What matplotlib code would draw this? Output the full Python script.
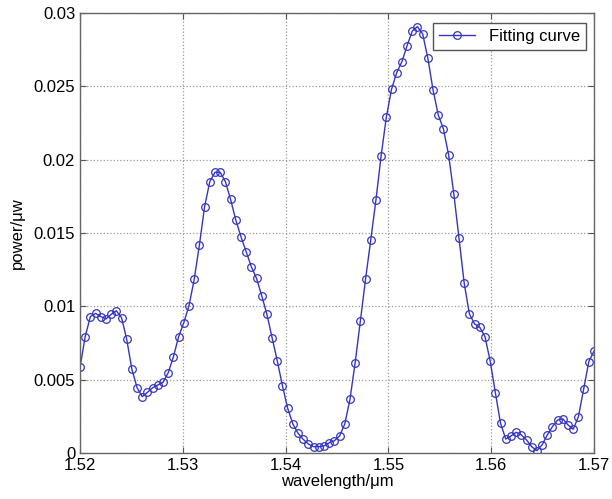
import numpy as np
import matplotlib
matplotlib.use('Agg')
import matplotlib.pyplot as plt

plt.rcParams['font.family'] = ['Liberation Sans', 'DejaVu Sans']

# измеренная мощность (равномерная сетка по длине волны 1.52 .. 1.57)
power = [
    0.00584, 0.00793, 0.00930, 0.00952, 0.00930, 0.00914, 0.00945, 0.00970, 0.00923, 0.00775,
    0.00570, 0.00445, 0.00384, 0.00414, 0.00445, 0.00464, 0.00482, 0.00548, 0.00657, 0.00793,
    0.00889, 0.01005, 0.01184, 0.01418, 0.01680, 0.01850, 0.01914, 0.01914, 0.01850, 0.01730,
    0.01589, 0.01475, 0.01373, 0.01270, 0.01191, 0.01073, 0.00945, 0.00786, 0.00627, 0.00457,
    0.00305, 0.00198, 0.00134, 0.00093, 0.00061, 0.00043, 0.00043, 0.00048, 0.00070, 0.00084,
    0.00116, 0.00198, 0.00366, 0.00616, 0.00900, 0.01186, 0.01452, 0.01725, 0.02027, 0.02289,
    0.02480, 0.02593, 0.02668, 0.02777, 0.02877, 0.02907, 0.02857, 0.02691, 0.02475, 0.02305,
    0.02209, 0.02032, 0.01766, 0.01464, 0.01157, 0.00948, 0.00880, 0.00857, 0.00793, 0.00627,
    0.00411, 0.00202, 0.00095, 0.00116, 0.00141, 0.00123, 0.00089, 0.00043, 0.00016, 0.00055,
    0.00123, 0.00180, 0.00225, 0.00232, 0.00191, 0.00162, 0.00248, 0.00434, 0.00623, 0.00695,
]
wl_start, wl_end = 1.52, 1.57
wavelength = np.linspace(wl_start, wl_end, len(power))

x_ticks = [1.52, 1.53, 1.54, 1.55, 1.56, 1.57]
x_labels = ['1.52', '1.53', '1.54', '1.55', '1.56', '1.57']
y_ticks = [0, 0.005, 0.01, 0.015, 0.02, 0.025, 0.03]
y_labels = ['0', '0.005', '0.01', '0.015', '0.02', '0.025', '0.03']

fig = plt.figure(figsize=(6.12, 4.99), dpi=100)
ax = fig.add_axes([0.1307, 0.0922, 0.8399, 0.8818])

ax.plot(wavelength, power, color='#3535c0', linewidth=1.0,
        marker='o', markersize=5.5, markerfacecolor='none',
        markeredgecolor='#3535c0', markeredgewidth=0.9, label='Fitting curve')

ax.set_xlim(wl_start, wl_end)
ax.set_ylim(0, 0.03)
ax.set_xticks(x_ticks)
ax.set_xticklabels(x_labels)
ax.set_yticks(y_ticks)
ax.set_yticklabels(y_labels)

# стиль MATLAB: штрихи внутрь, точечная сетка
ax.tick_params(direction='in', top=True, right=True, length=4,
               labelsize=12, color='#555555')
ax.grid(True, linestyle=':', color='#999999', linewidth=0.9)
for s in ax.spines.values():
    s.set_color('#666666')
    s.set_linewidth(1.0)

ax.set_xlabel('wavelength/μm', fontsize=12, labelpad=1)
ax.set_ylabel('power/μw', fontsize=12, labelpad=6)

ax.legend(loc='upper right', bbox_to_anchor=(0.99, 0.985), fancybox=False,
          framealpha=1, edgecolor='#555555', fontsize=12, handlelength=2.2,
          borderpad=0.35, borderaxespad=0.2)

fig.savefig('out.png', dpi=100, facecolor='white')
